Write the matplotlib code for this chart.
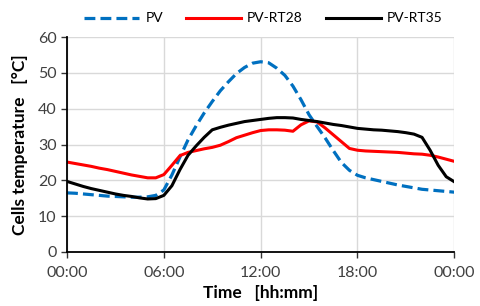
import matplotlib
matplotlib.use("Agg")
import matplotlib.pyplot as plt

hours = [0, 0.5, 1, 1.5, 2, 2.5, 3, 3.5, 4, 4.5, 5, 5.5, 6, 6.5, 7, 7.5, 8, 8.5,
         9, 9.5, 10, 10.5, 11, 11.5, 12, 12.5, 13, 13.5, 14, 14.5, 15, 15.5, 16,
         16.5, 17, 17.5, 18, 18.5, 19, 19.5, 20, 20.5, 21, 21.5, 22, 22.5, 23,
         23.5, 24]

pv = [16.5, 16.4, 16.2, 16.0, 15.8, 15.6, 15.5, 15.4, 15.3, 15.3, 15.4, 15.8,
      17.3, 21.5, 26.5, 31.3, 35.2, 38.8, 42.0, 45.0, 47.5, 49.8, 51.5, 52.7,
      53.1, 52.8, 51.3, 49.3, 46.3, 42.5, 38.3, 35.0, 31.8, 28.3, 25.0, 22.8,
      21.4, 20.7, 20.2, 19.7, 19.2, 18.7, 18.3, 17.9, 17.5, 17.3, 17.1, 16.9,
      16.7]

pv_rt28 = [25.1, 24.7, 24.3, 23.9, 23.4, 23.0, 22.5, 22.0, 21.5, 21.1, 20.7,
           20.7, 21.6, 24.2, 26.9, 27.8, 28.3, 28.8, 29.2, 29.8, 30.8, 31.9,
           32.6, 33.3, 33.9, 34.1, 34.1, 34.0, 33.7, 35.5, 36.6, 36.3, 34.6,
           32.7, 30.8, 28.9, 28.4, 28.2, 28.1, 28.0, 27.9, 27.8, 27.6, 27.4,
           27.3, 27.0, 26.5, 25.9, 25.3]

pv_rt35 = [19.7, 19.0, 18.3, 17.7, 17.2, 16.7, 16.2, 15.8, 15.5, 15.1, 14.8,
           14.9, 15.8, 18.5, 23.0, 27.0, 29.6, 32.0, 34.1, 34.8, 35.4, 35.9,
           36.4, 36.7, 37.0, 37.3, 37.5, 37.5, 37.4, 37.0, 36.7, 36.4, 36.0,
           35.6, 35.3, 34.9, 34.5, 34.3, 34.1, 34.0, 33.8, 33.6, 33.3, 32.9,
           32.0, 28.4, 24.2, 21.0, 19.6]

xticks = [0, 6, 12, 18, 24]
xticklabels = ["00:00", "06:00", "12:00", "18:00", "00:00"]
yticks = [0, 10, 20, 30, 40, 50, 60]

plt.rcParams['font.family'] = ['Lato', 'DejaVu Sans']

fig = plt.figure(figsize=(4.8, 3.06), dpi=100)
ax = fig.add_axes([0.1396, 0.1765, 0.8069, 0.7025])

ax.plot(hours, pv, color='#0070C0', lw=2.3, linestyle=(0, (3.4, 1.6)), label='PV')
ax.plot(hours, pv_rt28, color='#FF0000', lw=2.2, label='PV-RT28')
ax.plot(hours, pv_rt35, color='#000000', lw=2.2, label='PV-RT35')

ax.set_xlim(0, 24)
ax.set_ylim(0, 60)
ax.set_xticks(xticks)
ax.set_xticklabels(xticklabels)
ax.set_yticks(yticks)
ax.grid(True, color='#D9D9D9', lw=1.0)
ax.set_axisbelow(True)
for s in ['top', 'right']:
    ax.spines[s].set_visible(False)
for s in ['left', 'bottom']:
    ax.spines[s].set_color('black')
    ax.spines[s].set_linewidth(1.3)
ax.tick_params(axis='both', direction='out', length=4, width=1.0,
               labelsize=11.5, colors='#333333', labelcolor='#404040')
ax.tick_params(axis='x', pad=6)

ax.set_xlabel('Time   [hh:mm]', fontsize=12.5, fontweight='bold', labelpad=4)
ax.set_ylabel('Cells temperature   [°C]', fontsize=12.5, fontweight='bold', labelpad=7)

fig.legend(loc='upper center', bbox_to_anchor=(0.549, 1.0), ncol=3, frameon=False,
           fontsize=10, handlelength=3.95, columnspacing=1.65, handletextpad=0.45)

fig.savefig('out.png', dpi=100)
